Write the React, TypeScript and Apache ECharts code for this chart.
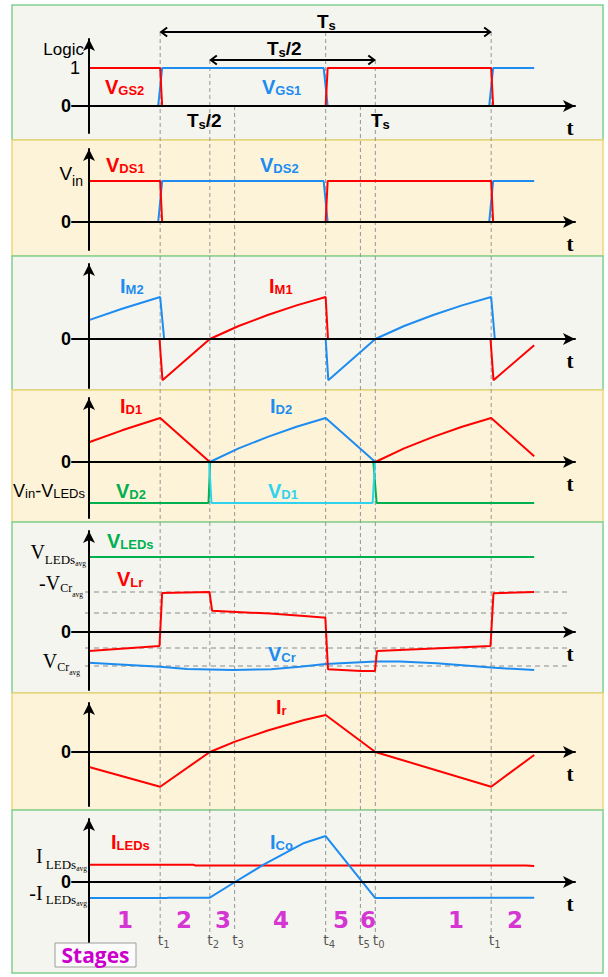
import { useEffect, useRef } from 'react';
import * as echarts from 'echarts';

const SANS = '"Liberation Sans", Arial, Helvetica, sans-serif';
const SERIF = '"Liberation Serif", "Times New Roman", serif';
const WIDE = '"DejaVu Sans", Verdana, sans-serif';
const UI = '"Open Sans", "Noto Sans", sans-serif';

const RED = '#ff0000';
const BLUE = '#1c8cf0';
const GREEN = '#00b050';
const CYAN = '#30d2ec';
const MAGENTA = '#cc00cc';
const GUIDE = '#959595';

// ---- time base: one switching period Ts = 10 units, t = 0 on the vertical axis
const T1 = 2.15;
const T2 = 3.65;
const T3 = 4.4;
const T4 = 7.15;
const T5 = 8.2;
const T0 = 8.65;
const T1N = 12.15;
const markerTimes = [T1, T2, T3, T4, T5, T0, T1N];
const markerSubs = ['1', '2', '3', '4', '5', '0', '1'];
const stageTimes = [1.09, 2.87, 4.05, 5.8, 7.61, 8.43, 11.09, 12.87];
const stageNames = ['1', '2', '3', '4', '5', '6', '1', '2'];
const periodSpans = [
  [T1, T1N], // Ts
  [T2, T0], // Ts/2
];

// ---- gate signals (logic level)
const vGS2 = [[0, 1], [2.15, 1], [2.21, 0], [7.15, 0], [7.21, 1], [12.15, 1], [12.21, 0], [13.45, 0]];
const vGS1 = [[0, 0], [2.09, 0], [2.21, 1], [7.09, 1], [7.21, 0], [12.09, 0], [12.21, 1], [13.45, 1]];

// ---- drain-source voltages (per unit of Vin)
const vDS1 = [[0, 1], [2.15, 1], [2.21, 0], [7.15, 0], [7.21, 1], [12.15, 1], [12.21, 0], [13.45, 0]];
const vDS2 = [[0, 0], [2.09, 0], [2.21, 1], [7.09, 1], [7.21, 0], [12.09, 0], [12.21, 1], [13.45, 1]];

// ---- switch currents (per unit of peak)
const iM2 = [[0, 0.45], [1.0, 0.72], [2.15, 1.0], [2.27, 0], [7.15, 0], [7.23, -0.98], [8.65, 0], [9.52, 0.31], [10.4, 0.57], [11.27, 0.8], [12.15, 1.0], [12.26, 0], [13.45, 0]];
const iM1 = [[0, 0], [2.13, 0], [2.22, -0.98], [3.65, 0], [4.52, 0.31], [5.4, 0.57], [6.27, 0.8], [7.15, 1.0], [7.22, 0], [12.13, 0], [12.22, -0.98], [13.45, -0.15]];

// ---- rectifier diodes
const iD1 = [[0, 0.45], [1.0, 0.72], [2.15, 1.0], [3.65, 0], [8.65, 0], [9.52, 0.31], [10.4, 0.57], [11.27, 0.8], [12.15, 1.0], [13.45, 0.13]];
const iD2 = [[0, 0], [3.65, 0], [4.52, 0.31], [5.4, 0.57], [6.27, 0.8], [7.15, 1.0], [8.65, 0], [13.45, 0]];
const vD2 = [[0, -0.93], [3.61, -0.93], [3.66, 0], [8.59, 0], [8.69, -0.93], [13.45, -0.93]];
const vD1 = [[0, 0], [3.63, 0], [3.7, -0.93], [8.57, -0.93], [8.64, 0], [13.45, 0]];

// ---- resonant tank voltages
const vLEDs = [[0, 1.875], [13.45, 1.875]];
const vLr = [[0, -0.475], [2.13, -0.35], [2.21, 0.975], [3.64, 1.0], [3.72, 0.53], [5.47, 0.46], [6.5, 0.4], [7.07, 0.36], [7.14, 0.36], [7.22, -0.93], [8.22, -0.975], [8.64, -0.975], [8.7, -0.475], [12.13, -0.35], [12.22, 0.97], [13.45, 1.0]];
const vCr = [[0, -0.77], [2.15, -0.87], [2.96, -0.925], [4.35, -0.95], [5.5, -0.93], [6.37, -0.87], [7.15, -0.8], [8.65, -0.74], [9.4, -0.74], [10.5, -0.78], [12.15, -0.89], [13.45, -0.95]];
const vLevels = [1.0, 0.475, -0.4, -0.85];
const vLevelSpan = [-0.12, 14.44];

// ---- resonant current
const iR = [[0, -0.405], [2.15, -0.94], [3.65, 0], [4.41, 0.28], [5.4, 0.58], [6.5, 0.865], [7.15, 1.0], [8.65, 0], [12.15, -0.94], [13.45, -0.08]];

// ---- output side currents
const iLEDs = [[0, 0.376], [3.15, 0.376], [3.2, 0.36], [13.2, 0.36], [13.45, 0.35]];
const iCo = [[0, -0.348], [2.35, -0.348], [2.4, -0.34], [3.65, -0.34], [4.41, 0], [5.26, 0.37], [6.5, 0.848], [7.15, 1.0], [8.65, -0.348], [13.45, -0.34]];

// ---- layout
const W = 608;
const H = 977;
const X_ORIGIN = 89;
const PX_PER_UNIT = 33.1;
const AXIS_X0 = 72;
const AXIS_X1 = 575;
const X_MIN = (AXIS_X0 - X_ORIGIN) / PX_PER_UNIT;
const X_MAX = (AXIS_X1 - X_ORIGIN) / PX_PER_UNIT;

const PLOTS = [
  { zero: 106, unit: 38, top: 39, bottom: 133 },
  { zero: 222, unit: 41, top: 149, bottom: 250 },
  { zero: 339, unit: 42, top: 264, bottom: 388 },
  { zero: 462, unit: 44, top: 398, bottom: 518 },
  { zero: 632, unit: 40, top: 531, bottom: 690 },
  { zero: 752, unit: 37, top: 703, bottom: 806 },
  { zero: 882, unit: 46, top: 819, bottom: 943 },
];
const PANELS: [number, number, boolean][] = [
  [5, 140, false], [140, 256, true], [256, 390, false], [390, 522, true],
  [522, 693, false], [693, 810, true], [810, 973, false],
];
const OVERLAY = PLOTS.length;
const ROW_TS = 32;
const ROW_HALF = 60;
const ROW_AXIS = 106;
const GUIDE_END = 932;
const STAGE_ROW = 920;
const MARKER_ROW = 941;
const guideStart = [ROW_TS, ROW_HALF, ROW_AXIS, ROW_TS, ROW_AXIS, ROW_HALF, ROW_TS];
const spanRows = [ROW_TS, ROW_HALF];

type Part = { t: string; size: number; dy?: number };
type Base = { font: string; bold: boolean; color: string };

// rich text block: first part is the main glyph, later parts are shifted by dy (subscripts)
function richText(x: number, cy: number, align: string, parts: Part[], base: Base) {
  const main = parts[0].size;
  const rich: any = {};
  let text = '';
  parts.forEach((p, i) => {
    const key = 'p' + i;
    const pad = (p.dy ?? 0) + main / 2 - p.size / 2;
    rich[key] = {
      fontSize: p.size,
      fontFamily: base.font,
      fontWeight: base.bold ? 'bold' : 'normal',
      fill: base.color,
      verticalAlign: 'top',
      padding: [Math.max(0, pad), 0, 0, 0],
    };
    text += `{${key}|${p.t}}`;
  });
  return {
    type: 'text',
    x,
    y: cy - main / 2,
    z: 30,
    silent: true,
    style: { text, rich, align, textAlign: align, verticalAlign: 'top', textVerticalAlign: 'top' },
  };
}

const sig = (x: number, cy: number, main: string, sub: string, color: string) =>
  richText(x, cy, 'left', [{ t: main, size: 20 }, { t: sub, size: 13, dy: 3.5 }], { font: SANS, bold: true, color });

const tsLabel = (x: number, cy: number, half: boolean) =>
  richText(
    x,
    cy,
    'left',
    half
      ? [{ t: 'T', size: 19 }, { t: 's', size: 13, dy: 4 }, { t: '/2', size: 19 }]
      : [{ t: 'T', size: 19 }, { t: 's', size: 13, dy: 4 }],
    { font: SANS, bold: true, color: '#000' }
  );

const serifLabel = (x: number, cy: number, parts: Part[]) =>
  richText(x, cy, 'right', parts, { font: SERIF, bold: false, color: '#000' });

function buildOption(): any {
  const graphics: any[] = [];
  PANELS.forEach(([top, bottom, warm]) => {
    graphics.push({
      type: 'rect',
      z: -10,
      silent: true,
      shape: { x: 12, y: top, width: 591, height: bottom - top },
      style: { fill: warm ? '#fdf3d8' : '#f5f5ef', stroke: warm ? '#f0d67a' : '#80d090', lineWidth: 1.5 },
    });
  });

  // zero labels and time-axis letters
  PLOTS.forEach((p) => {
    graphics.push(richText(71, p.zero, 'right', [{ t: '0', size: 18 }], { font: SANS, bold: true, color: '#000' }));
    graphics.push(richText(570, p.zero + 22, 'center', [{ t: 't', size: 21 }], { font: SERIF, bold: true, color: '#000' }));
  });

  // panel 1
  graphics.push(richText(84, 49, 'right', [{ t: 'Logic', size: 17 }], { font: SANS, bold: false, color: '#000' }));
  graphics.push(richText(80, PLOTS[0].zero - PLOTS[0].unit, 'right', [{ t: '1', size: 18 }], { font: SANS, bold: false, color: '#000' }));
  graphics.push(sig(105, 87, 'V', 'GS2', RED));
  graphics.push(sig(262, 87, 'V', 'GS1', BLUE));
  graphics.push(tsLabel(317, 21, false));
  graphics.push(tsLabel(267, 48, true));
  graphics.push(tsLabel(187, 120, true));
  graphics.push(tsLabel(371, 120, false));

  // panel 2
  graphics.push(richText(83, 173, 'right', [{ t: 'V', size: 19 }, { t: 'in', size: 14, dy: 8 }], { font: SANS, bold: false, color: '#000' }));
  graphics.push(sig(106, 165, 'V', 'DS1', RED));
  graphics.push(sig(260, 165, 'V', 'DS2', BLUE));

  // panel 3
  graphics.push(sig(120, 286, 'I', 'M2', BLUE));
  graphics.push(sig(269, 286, 'I', 'M1', RED));

  // panel 4
  graphics.push(sig(120, 406, 'I', 'D1', RED));
  graphics.push(sig(270, 406, 'I', 'D2', BLUE));
  graphics.push(sig(116, 491, 'V', 'D2', GREEN));
  graphics.push(sig(268, 491, 'V', 'D1', CYAN));
  graphics.push(
    richText(85, 491, 'right', [{ t: 'V', size: 18 }, { t: 'in', size: 13, dy: 2.5 }, { t: '-V', size: 18 }, { t: 'LEDs', size: 13, dy: 2.5 }], {
      font: SANS,
      bold: false,
      color: '#000',
    })
  );

  // panel 5
  graphics.push(sig(107, 541, 'V', 'LEDs', GREEN));
  graphics.push(sig(117, 579, 'V', 'Lr', RED));
  graphics.push(sig(268, 654, 'V', 'Cr', BLUE));
  graphics.push(serifLabel(86, 552, [{ t: 'V', size: 20 }, { t: 'LEDs', size: 13, dy: 7 }, { t: 'avg', size: 7.5, dy: 11 }]));
  graphics.push(serifLabel(83, 583, [{ t: '-V', size: 20 }, { t: 'Cr', size: 12, dy: 5 }, { t: 'avg', size: 7.5, dy: 11 }]));
  graphics.push(serifLabel(80, 661, [{ t: 'V', size: 20 }, { t: 'Cr', size: 12, dy: 6 }, { t: 'avg', size: 7.5, dy: 11 }]));

  // panel 6
  graphics.push(sig(276, 707, 'I', 'r', RED));

  // panel 7
  graphics.push(sig(111, 842, 'I', 'LEDs', RED));
  graphics.push(sig(270, 842, 'I', 'Co', BLUE));
  graphics.push(serifLabel(87, 856, [{ t: 'I', size: 20 }, { t: ' LEDs', size: 13, dy: 8 }, { t: 'avg', size: 7.5, dy: 12 }]));
  graphics.push(serifLabel(87, 893, [{ t: '-I', size: 20 }, { t: ' LEDs', size: 13, dy: 6 }, { t: 'avg', size: 7.5, dy: 10 }]));

  // stages box
  graphics.push({
    type: 'rect',
    z: 25,
    silent: true,
    shape: { x: 55, y: 943, width: 81, height: 24 },
    style: { fill: '#fbfbfb', stroke: '#9c9c9c', lineWidth: 1 },
  });
  graphics.push(richText(95.5, 955, 'center', [{ t: 'Stages', size: 21 }], { font: UI, bold: true, color: MAGENTA }));

  const grids: any[] = PLOTS.map((p) => ({
    left: AXIS_X0,
    width: AXIS_X1 - AXIS_X0,
    top: p.top,
    height: p.bottom - p.top,
    outerBoundsMode: 'none',
  }));
  grids.push({ left: AXIS_X0, width: AXIS_X1 - AXIS_X0, top: 0, height: H, outerBoundsMode: 'none' });

  const axisLine = {
    show: true,
    onZero: true,
    symbol: ['none', 'arrow'],
    symbolSize: [9, 12],
    lineStyle: { color: '#000', width: 2 },
  };
  const hidden = { axisTick: { show: false }, axisLabel: { show: false }, splitLine: { show: false } };

  const xAxes: any[] = PLOTS.map((_, i) => ({ type: 'value', gridIndex: i, min: X_MIN, max: X_MAX, axisLine, ...hidden, z: 5 }));
  xAxes.push({ type: 'value', gridIndex: OVERLAY, min: X_MIN, max: X_MAX, show: false });
  const yAxes: any[] = PLOTS.map((p, i) => ({
    type: 'value',
    gridIndex: i,
    min: -(p.bottom - p.zero) / p.unit,
    max: (p.zero - p.top) / p.unit,
    axisLine,
    ...hidden,
    z: 5,
  }));
  yAxes.push({ type: 'value', gridIndex: OVERLAY, min: 0, max: H, inverse: true, show: false });

  const wave = (panel: number, data: number[][], color: string) => ({
    type: 'line',
    xAxisIndex: panel,
    yAxisIndex: panel,
    data,
    symbol: 'none',
    showSymbol: false,
    lineStyle: { color, width: 2 },
    itemStyle: { color },
    z: 3,
    silent: true,
  });

  const series: any[] = [
    wave(0, vGS1, BLUE),
    wave(0, vGS2, RED),
    wave(1, vDS2, BLUE),
    wave(1, vDS1, RED),
    wave(2, iM2, BLUE),
    wave(2, iM1, RED),
    wave(3, iD1, RED),
    wave(3, iD2, BLUE),
    wave(3, vD2, GREEN),
    wave(3, vD1, CYAN),
    ...vLevels.map((lvl) => ({
      type: 'line',
      xAxisIndex: 4,
      yAxisIndex: 4,
      data: vLevelSpan.map((t) => [t, lvl]),
      symbol: 'none',
      lineStyle: { color: '#8a8a8a', width: 1, type: [5, 4] },
      z: 1,
      silent: true,
    })),
    wave(4, vLEDs, GREEN),
    wave(4, vCr, BLUE),
    wave(4, vLr, RED),
    wave(5, iR, RED),
    wave(6, iLEDs, RED),
    wave(6, iCo, BLUE),
    // switching-instant guides
    {
      type: 'custom',
      xAxisIndex: OVERLAY,
      yAxisIndex: OVERLAY,
      z: 1,
      silent: true,
      data: markerTimes.map((t, i) => [t, guideStart[i], GUIDE_END]),
      renderItem: (_: any, api: any) => {
        const a = api.coord([api.value(0), api.value(1)]);
        const b = api.coord([api.value(0), api.value(2)]);
        return {
          type: 'line',
          shape: { x1: a[0], y1: a[1], x2: b[0], y2: b[1] },
          style: { stroke: GUIDE, lineWidth: 1, lineDash: [4, 3] },
        };
      },
    },
    // Ts and Ts/2 span arrows
    {
      type: 'custom',
      xAxisIndex: OVERLAY,
      yAxisIndex: OVERLAY,
      z: 6,
      silent: true,
      data: periodSpans.map((s, i) => [s[0], spanRows[i], s[1]]),
      renderItem: (_: any, api: any) => {
        const a = api.coord([api.value(0), api.value(1)]);
        const b = api.coord([api.value(2), api.value(1)]);
        const st = { stroke: '#000', lineWidth: 2, fill: 'none' };
        return {
          type: 'group',
          children: [
            { type: 'line', shape: { x1: a[0] + 1, y1: a[1], x2: b[0] - 1, y2: b[1] }, style: st },
            { type: 'polyline', shape: { points: [[a[0] + 7, a[1] - 4.5], [a[0] + 1, a[1]], [a[0] + 7, a[1] + 4.5]] }, style: st },
            { type: 'polyline', shape: { points: [[b[0] - 7, b[1] - 4.5], [b[0] - 1, b[1]], [b[0] - 7, b[1] + 4.5]] }, style: st },
          ],
        };
      },
    },
    // stage numbers
    {
      type: 'scatter',
      xAxisIndex: OVERLAY,
      yAxisIndex: OVERLAY,
      symbolSize: 1,
      itemStyle: { color: 'rgba(0,0,0,0)' },
      silent: true,
      z: 10,
      data: stageTimes.map((t) => [t, STAGE_ROW]),
      label: {
        show: true,
        position: 'inside',
        formatter: (p: any) => stageNames[p.dataIndex],
        color: MAGENTA,
        fontFamily: WIDE,
        fontWeight: 'bold',
        fontSize: 23,
      },
    },
    // switching-instant names
    {
      type: 'scatter',
      xAxisIndex: OVERLAY,
      yAxisIndex: OVERLAY,
      symbolSize: 1,
      itemStyle: { color: 'rgba(0,0,0,0)' },
      silent: true,
      z: 10,
      data: markerTimes.map((t) => [t, MARKER_ROW]),
      label: {
        show: true,
        position: 'right',
        distance: 0,
        offset: [-3, 0],
        formatter: (p: any) => `{t|t}{s|${markerSubs[p.dataIndex]}}`,
        rich: {
          t: { fontSize: 14, color: '#2a2a2a', fontFamily: WIDE, verticalAlign: 'top' },
          s: { fontSize: 10, color: '#2a2a2a', fontFamily: WIDE, verticalAlign: 'top', padding: [6, 0, 0, 0] },
        },
      },
    },
  ];

  return {
    animation: false,
    backgroundColor: '#ffffff',
    grid: grids,
    xAxis: xAxes,
    yAxis: yAxes,
    series,
    graphic: { elements: graphics },
  };
}

export default function App() {
  const ref = useRef<HTMLDivElement>(null);
  useEffect(() => {
    if (!ref.current) return;
    const chart = echarts.init(ref.current, null, { renderer: 'svg', width: W, height: H });
    chart.setOption(buildOption());
    return () => chart.dispose();
  }, []);
  return <div ref={ref} style={{ position: 'fixed', left: 0, top: 0, width: W, height: H, background: '#fff' }} />;
}
